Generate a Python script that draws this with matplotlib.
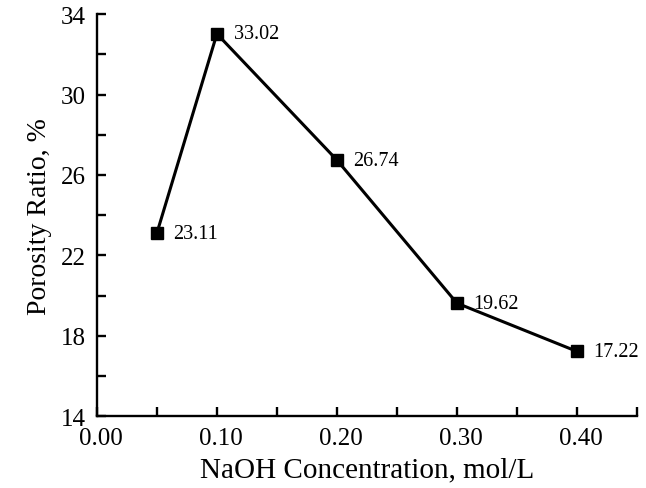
import numpy as np
import matplotlib.pyplot as plt
from matplotlib.ticker import MultipleLocator
from matplotlib.transforms import ScaledTranslation

# data
conc = [0.05, 0.10, 0.20, 0.30, 0.40]
porosity = [23.11, 33.02, 26.74, 19.62, 17.22]
labels = ['23.11', '33.02', '26.74', '19.62', '17.22']

plt.rcParams['font.family'] = ['Liberation Serif', 'DejaVu Serif']

fig = plt.figure(figsize=(6.46, 4.89), dpi=100)
ax = fig.add_axes([0.150, 0.147, 0.836, 0.822])

ax.plot(conc, porosity, color='black', lw=2.2, marker='s', ms=9,
        markerfacecolor='black', markeredgecolor='black')

for x, y, s in zip(conc, porosity, labels):
    ax.annotate(s, (x, y), xytext=(12, 0), textcoords='offset points',
                va='center', ha='left', fontsize=14.5)

ax.set_xlim(0, 0.45)
ax.set_ylim(14, 34)
ax.set_xticks(np.arange(0, 0.41, 0.1))
ax.set_xticklabels(['0.00', '0.10', '0.20', '0.30', '0.40'])
ax.xaxis.set_minor_locator(MultipleLocator(0.05))
ax.set_yticks(np.arange(14, 35, 4))
ax.yaxis.set_minor_locator(MultipleLocator(2))

for side in ['top', 'right']:
    ax.spines[side].set_visible(False)
for side in ['left', 'bottom']:
    ax.spines[side].set_linewidth(1.7)

ax.tick_params(which='both', direction='in', length=6.5, width=1.7,
               labelsize=18, pad=8)

# x tick labels sit a little right of their ticks in the original
shift = ScaledTranslation(4 / 100, 0, fig.dpi_scale_trans)
for lab in ax.get_xticklabels():
    lab.set_transform(lab.get_transform() + shift)

ax.set_xlabel('NaOH Concentration, mol/L', fontsize=21, labelpad=5)
ax.set_ylabel('Porosity Ratio, %', fontsize=20, labelpad=6)

fig.savefig('out.png', dpi=100)
